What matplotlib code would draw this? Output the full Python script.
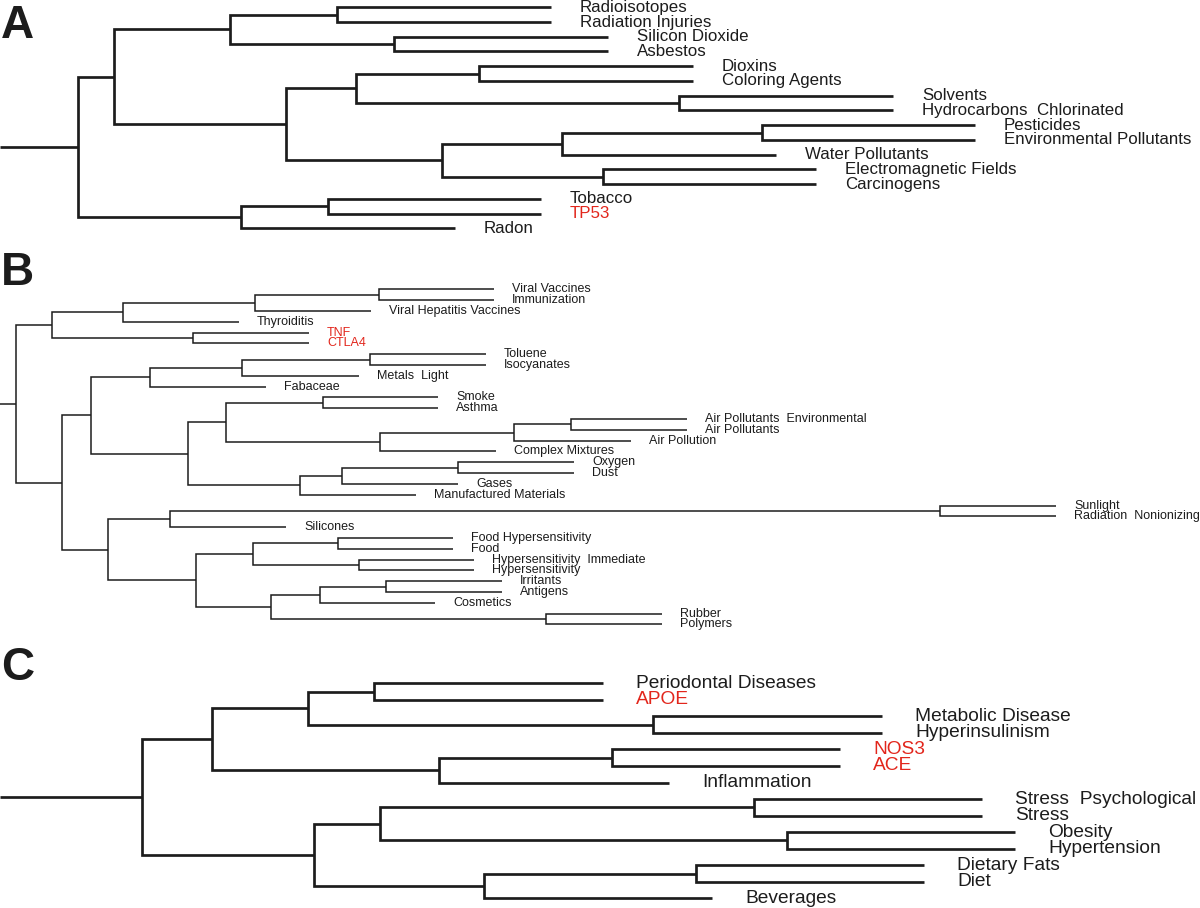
import matplotlib
matplotlib.use("Agg")
import matplotlib.pyplot as plt

# ---------------- data ----------------
# Panel A
A_labels = ["Radioisotopes", "Radiation Injuries", "Silicon Dioxide", "Asbestos",
            "Dioxins", "Coloring Agents", "Solvents", "Hydrocarbons  Chlorinated",
            "Pesticides", "Environmental Pollutants", "Water Pollutants",
            "Electromagnetic Fields", "Carcinogens", "Tobacco", "TP53", "Radon"]
A_genes = ["TP53"]
A_leaf_height = [551, 551, 608, 608, 693, 693, 893, 893, 975, 975, 776,
                 816, 816, 541, 541, 455]
# merges: (child a, child b, merge height); indices >= n refer to earlier merges
A_merges = [(0, 1, 337), (2, 3, 394), (16, 17, 230), (4, 5, 479), (6, 7, 679),
            (19, 20, 356), (8, 9, 762), (22, 10, 562), (11, 12, 603),
            (23, 24, 442), (21, 25, 286), (18, 26, 114), (13, 14, 328),
            (28, 15, 241), (27, 29, 78)]

# Panel B
B_labels = ["Viral Vaccines", "Immunization", "Viral Hepatitis Vaccines", "Thyroiditis",
            "TNF", "CTLA4", "Toluene", "Isocyanates", "Metals  Light", "Fabaceae",
            "Smoke", "Asthma", "Air Pollutants  Environmental", "Air Pollutants",
            "Air Pollution", "Complex Mixtures", "Oxygen", "Dust", "Gases",
            "Manufactured Materials", "Sunlight", "Radiation  Nonionizing",
            "Silicones", "Food Hypersensitivity", "Food",
            "Hypersensitivity  Immediate", "Hypersensitivity", "Irritants",
            "Antigens", "Cosmetics", "Rubber", "Polymers"]
B_genes = ["TNF", "CTLA4"]
B_leaf_height = [494, 494, 371, 239, 309, 309, 486, 486, 359, 266,
                 438, 438, 687, 687, 631, 496, 574, 574, 458, 416,
                 1056, 1056, 286, 453, 453, 474, 474, 502, 502, 435, 662, 662]
B_merges = [(0, 1, 379), (32, 2, 255), (33, 3, 123), (4, 5, 193), (34, 35, 52),
            (6, 7, 370), (37, 8, 242), (38, 9, 150), (10, 11, 323), (12, 13, 571),
            (41, 14, 514), (42, 15, 380), (40, 43, 226), (16, 17, 458),
            (45, 18, 342), (46, 19, 300), (44, 47, 188), (39, 48, 91),
            (20, 21, 940), (50, 22, 170), (23, 24, 338), (25, 26, 359),
            (52, 53, 253), (27, 28, 386), (55, 29, 320), (30, 31, 546),
            (56, 57, 271), (54, 58, 196), (51, 59, 108), (49, 60, 62),
            (36, 61, 16)]

# Panel C
C_labels = ["Periodontal Diseases", "APOE", "Metabolic Disease", "Hyperinsulinism",
            "NOS3", "ACE", "Inflammation", "Stress  Psychological", "Stress",
            "Obesity", "Hypertension", "Dietary Fats", "Diet", "Beverages"]
C_genes = ["APOE", "NOS3", "ACE"]
C_leaf_height = [603, 603, 882, 882, 840, 840, 669, 982, 982, 1015, 1015,
                 924, 924, 712]
C_merges = [(0, 1, 374), (2, 3, 653), (14, 15, 308), (4, 5, 612), (17, 6, 439),
            (16, 18, 212), (7, 8, 754), (9, 10, 787), (20, 21, 380),
            (11, 12, 696), (23, 13, 484), (22, 24, 314), (19, 25, 142)]

# ---------------- drawing ----------------
W, H = 1200, 908
LINE = "#1c1c1c"
TEXT = "#1c1c1c"
RED = "#e2261c"
FONT = "Liberation Sans"

fig = plt.figure(figsize=(W / 100, H / 100), dpi=100)
fig.patch.set_facecolor("white")


def panel_axes(top, bot, y0, step):
    ax = fig.add_axes([0, 1 - bot / H, 1, (bot - top) / H])
    ax.set_xlim(0, W)
    ax.set_ylim((bot - y0) / step, (top - y0) / step)
    ax.axis("off")
    return ax


def draw_tree(ax, labels, leaf_h, merges, genes, lw, fs, gap):
    n = len(labels)
    xs = list(leaf_h)
    ys = [float(i) for i in range(n)]
    for a, b, h in merges:
        ax.plot([xs[a], h, h, xs[b]], [ys[a], ys[a], ys[b], ys[b]],
                color=LINE, lw=lw, solid_joinstyle="miter",
                solid_capstyle="butt", clip_on=False)
        xs.append(h)
        ys.append((ys[a] + ys[b]) / 2)
    ax.plot([0, xs[-1]], [ys[-1], ys[-1]], color=LINE, lw=lw,
            solid_capstyle="butt", clip_on=False)
    for i, lab in enumerate(labels):
        ax.annotate(lab, (leaf_h[i], i), xytext=(gap, 0),
                    textcoords="offset pixels", ha="left", va="center",
                    fontsize=fs, family=FONT,
                    color=RED if lab in genes else TEXT,
                    annotation_clip=False)


axA = panel_axes(0, 240, 7.3, 14.73)
draw_tree(axA, A_labels, A_leaf_height, A_merges, A_genes, 1.95, 12.2, 29)

axB = panel_axes(240, 640, 289.3, 10.81)
draw_tree(axB, B_labels, B_leaf_height, B_merges, B_genes, 1.1, 9.0, 18)

axC = panel_axes(640, 908, 683.3, 16.54)
draw_tree(axC, C_labels, C_leaf_height, C_merges, C_genes, 1.95, 13.8, 33)

for letter, base in [("A", 38), ("B", 285), ("C", 680)]:
    fig.text(1 / W, 1 - base / H, letter, fontsize=33, fontweight="bold",
             family=FONT, color=TEXT, ha="left", va="baseline")

fig.savefig("out.png", dpi=100, facecolor="white")
